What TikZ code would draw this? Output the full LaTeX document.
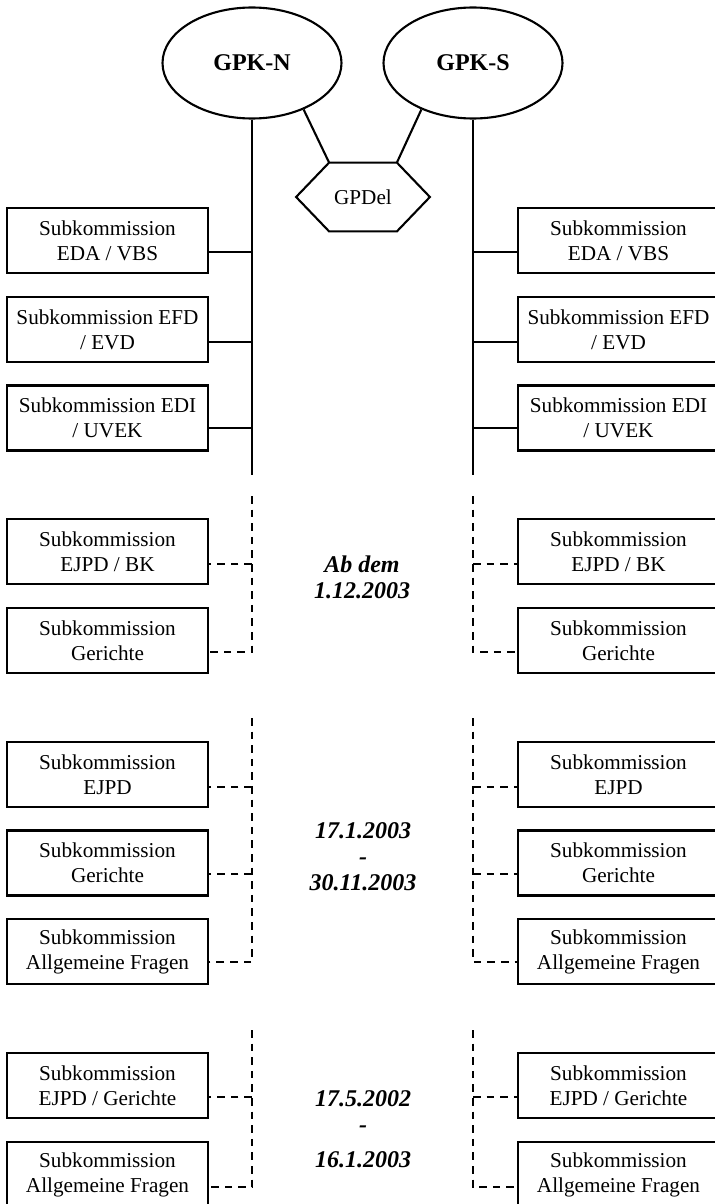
\documentclass[tikz,border=0pt]{standalone}
\usepackage{fontspec}
\setmainfont{Liberation Serif}
\usetikzlibrary{shapes.geometric, calc}

\tikzset{
  subbox/.style={draw, line width=1.05pt, minimum width=100.5pt, minimum height=32.5pt,
    inner sep=1pt, align=center, font=\fontsize{10.6}{12.5}\selectfont},
  gpk/.style={draw, ellipse, line width=1.05pt, minimum width=89.5pt, minimum height=55.5pt,
    inner sep=0pt, font=\fontsize{12}{14}\selectfont\bfseries},
  datum/.style={align=center, inner sep=0pt, font=\fontsize{12}{13}\selectfont\bfseries\itshape},
  solidline/.style={line width=1.05pt},
  dashline/.style={line width=1.05pt, dash pattern=on 3.8pt off 3pt},
}

\begin{document}
\begin{tikzpicture}[x=0.5pt, y=-0.5pt]
  \useasboundingbox (0,0) rectangle (715,1204);
  % the two commissions
  \node[gpk] (gpkn) at (252,63) {GPK-N};
  \node[gpk] (gpks) at (473,63) {GPK-S};
  % delegation hexagon
  \node[inner sep=0pt, minimum width=33.5pt, minimum height=34pt,
    font=\fontsize{10.6}{12.5}\selectfont] (gpdel) at (363,197) {GPDel};
  \draw[solidline] (gpdel.north west) -- (gpdel.north east) -- ($(gpdel.east)+(33,0)$)
    -- (gpdel.south east) -- (gpdel.south west) -- ($(gpdel.west)+(-33,0)$) -- cycle;
  \draw[solidline] (gpkn.-42) -- (gpdel.north west);
  \draw[solidline] (gpks.-138) -- (gpdel.north east);

  % current subcommissions, left
  \node[subbox] (lEda) at (107.5,240.5) {Subkommission\\EDA / VBS};
  \node[subbox] (lEfd) at (107.5,329.5) {Subkommission EFD\\/ EVD};
  \node[subbox] (lEdi) at (107.5,418) {Subkommission EDI\\/ UVEK};
  % current subcommissions, right
  \node[subbox] (rEda) at (618.5,240.5) {Subkommission\\EDA / VBS};
  \node[subbox] (rEfd) at (618.5,329.5) {Subkommission EFD\\/ EVD};
  \node[subbox] (rEdi) at (618.5,418) {Subkommission EDI\\/ UVEK};
  % solid spines
  \coordinate (lEnd) at (252,475);
  \coordinate (rEnd) at (473,475);
  \draw[solidline] (gpkn) -- (lEnd);
  \draw[solidline] (gpks) -- (rEnd);
  \coordinate (lEdaJ) at (252,252);
  \coordinate (lEfdJ) at (252,342);
  \coordinate (lEdiJ) at (252,428);
  \coordinate (rEdaJ) at (473,252);
  \coordinate (rEfdJ) at (473,342);
  \coordinate (rEdiJ) at (473,428);
  \draw[solidline] (lEdaJ) -- (lEdaJ -| lEda.east);
  \draw[solidline] (lEfdJ) -- (lEfdJ -| lEfd.east);
  \draw[solidline] (lEdiJ) -- (lEdiJ -| lEdi.east);
  \draw[solidline] (rEdaJ) -- (rEdaJ -| rEda.west);
  \draw[solidline] (rEfdJ) -- (rEfdJ -| rEfd.west);
  \draw[solidline] (rEdiJ) -- (rEdiJ -| rEdi.west);

  % from 1.12.2003
  \node[subbox] (lEjpdBk) at (107.5,551.5) {Subkommission\\EJPD / BK};
  \node[subbox] (lGerA) at (107.5,640.5) {Subkommission\\Gerichte};
  \node[subbox] (rEjpdBk) at (618.5,551.5) {Subkommission\\EJPD / BK};
  \node[subbox] (rGerA) at (618.5,640.5) {Subkommission\\Gerichte};
  \node[datum] (datA) at (362,577) {Ab dem\\1.12.2003};
  \coordinate (lTopA) at (252,496);
  \coordinate (rTopA) at (473,496);
  \coordinate (lEjpdBkJ) at (252,564);
  \coordinate (lGerAJ) at (252,652);
  \coordinate (rEjpdBkJ) at (473,564);
  \coordinate (rGerAJ) at (473,652);
  \draw[dashline] (lTopA) -- (lGerAJ) -- (lGerAJ -| lGerA.east);
  \draw[dashline] (lEjpdBkJ) -- (lEjpdBkJ -| lEjpdBk.east);
  \draw[dashline] (rTopA) -- (rGerAJ) -- (rGerAJ -| rGerA.west);
  \draw[dashline] (rEjpdBkJ) -- (rEjpdBkJ -| rEjpdBk.west);

  % 17.1.2003 - 30.11.2003
  \node[subbox] (lEjpd) at (107.5,774.5) {Subkommission\\EJPD};
  \node[subbox] (lGerB) at (107.5,863) {Subkommission\\Gerichte};
  \node[subbox] (lAllgA) at (107.5,951.5) {Subkommission\\Allgemeine Fragen};
  \node[subbox] (rEjpd) at (618.5,774.5) {Subkommission\\EJPD};
  \node[subbox] (rGerB) at (618.5,863) {Subkommission\\Gerichte};
  \node[subbox] (rAllgA) at (618.5,951.5) {Subkommission\\Allgemeine Fragen};
  \node[datum] (datB) at (363,857) {17.1.2003\\-\\30.11.2003};
  \coordinate (lTopB) at (252,718);
  \coordinate (rTopB) at (473,718);
  \coordinate (lEjpdJ) at (252,787);
  \coordinate (lGerBJ) at (252,874);
  \coordinate (lAllgAJ) at (252,962);
  \coordinate (rEjpdJ) at (473,787);
  \coordinate (rGerBJ) at (473,874);
  \coordinate (rAllgAJ) at (473,962);
  \draw[dashline] (lTopB) -- (lAllgAJ) -- (lAllgAJ -| lAllgA.east);
  \draw[dashline] (lEjpdJ) -- (lEjpdJ -| lEjpd.east);
  \draw[dashline] (lGerBJ) -- (lGerBJ -| lGerB.east);
  \draw[dashline] (rTopB) -- (rAllgAJ) -- (rAllgAJ -| rAllgA.west);
  \draw[dashline] (rEjpdJ) -- (rEjpdJ -| rEjpd.west);
  \draw[dashline] (rGerBJ) -- (rGerBJ -| rGerB.west);

  % 17.5.2002 - 16.1.2003
  \node[subbox] (lEjpdGer) at (107.5,1085.5) {Subkommission\\EJPD / Gerichte};
  \node[subbox] (lAllgB) at (107.5,1174.5) {Subkommission\\Allgemeine Fragen};
  \node[subbox] (rEjpdGer) at (618.5,1085.5) {Subkommission\\EJPD / Gerichte};
  \node[subbox] (rAllgB) at (618.5,1174.5) {Subkommission\\Allgemeine Fragen};
  \node[datum] (datC) at (363,1129) {17.5.2002\\-\\[4.5pt]16.1.2003};
  \coordinate (lTopC) at (252,1030);
  \coordinate (rTopC) at (473,1030);
  \coordinate (lEjpdGerJ) at (252,1097);
  \coordinate (lAllgBJ) at (252,1187);
  \coordinate (rEjpdGerJ) at (473,1097);
  \coordinate (rAllgBJ) at (473,1187);
  \draw[dashline] (lTopC) -- (lAllgBJ) -- (lAllgBJ -| lAllgB.east);
  \draw[dashline] (lEjpdGerJ) -- (lEjpdGerJ -| lEjpdGer.east);
  \draw[dashline] (rTopC) -- (rAllgBJ) -- (rAllgBJ -| rAllgB.west);
  \draw[dashline] (rEjpdGerJ) -- (rEjpdGerJ -| rEjpdGer.west);
\end{tikzpicture}
\end{document}
